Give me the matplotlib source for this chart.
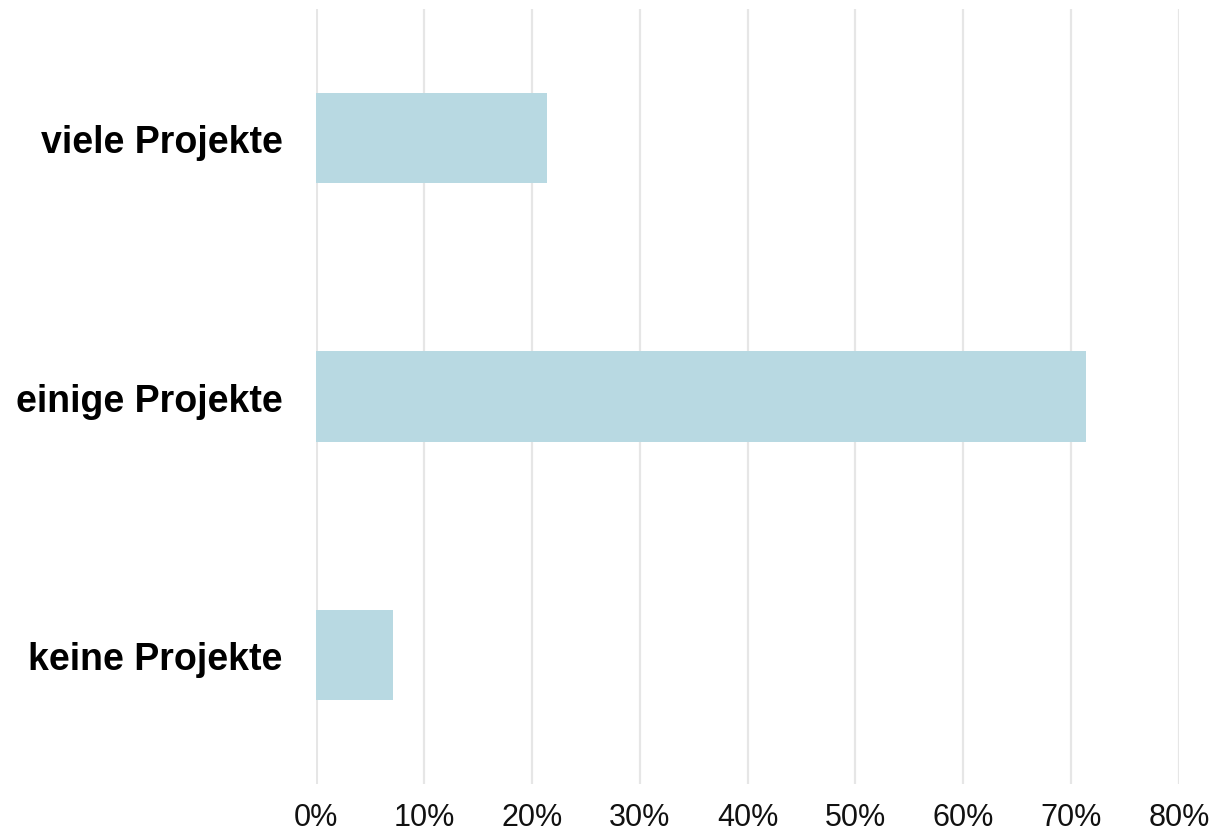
import matplotlib.pyplot as plt
from matplotlib.ticker import FuncFormatter

categories = ['keine Projekte', 'einige Projekte', 'viele Projekte']
shares = [7.1, 71.4, 21.4]
ticks = [0, 10, 20, 30, 40, 50, 60, 70, 80]

plt.rcParams['font.family'] = ['Liberation Sans', 'DejaVu Sans']

fig = plt.figure(figsize=(12.16, 8.37), dpi=100)
ax = fig.add_axes([316 / 1216, 1 - 785 / 837, (1179 - 316) / 1216, 775 / 837])

# grid lines behind bars
for t in ticks:
    ax.axvline(t, color='#e6e6e6', lw=2.2 if t == 0 else 1.6, zorder=0)

ax.barh(range(len(categories)), shares, height=0.35, color='#b8d9e2', zorder=2)

ax.set_xlim(0, 80)
ax.set_ylim(-0.5, 2.5)
ax.set_xticks(ticks)
ax.xaxis.set_major_formatter(FuncFormatter(lambda v, p: f'{v:.0f}%'))
ax.set_yticks(range(len(categories)))
ax.set_yticklabels(categories, fontweight='bold', fontsize=27)
ax.tick_params(axis='x', length=0, labelsize=22, pad=13, colors='#111111')
ax.tick_params(axis='y', length=0, pad=24)
for s in ax.spines.values():
    s.set_visible(False)

fig.savefig('out.png', dpi=100)
